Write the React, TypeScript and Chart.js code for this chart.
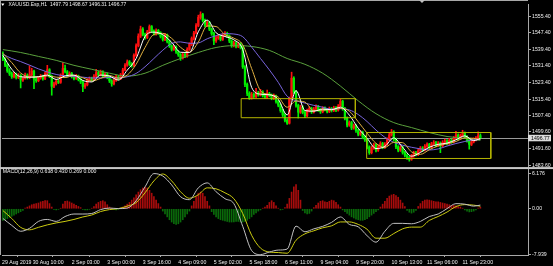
import React, { useEffect, useRef } from 'react';
import { Chart, registerables } from 'chart.js';

Chart.register(...registerables);

const symbolTitle = 'XAUUSD.Esp,H1';
const macdTitle = 'MACD(12,26,9)';
const macdLegendValues = ['0.638', '0.430', '0.269', '0.000'];

const opens = [
1537.0,1534.5,1531.8,1529.0,1527.6,1526.2,1527.4,1525.9,1526.8,1524.6,
1525.5,1526.9,1525.8,1527.2,1528.9,1525.1,1524.3,1525.7,1526.5,1525.2,
1527.8,1529.6,1526.4,1521.6,1522.8,1524.1,1523.5,1526.8,1530.2,1528.6,
1526.9,1527.8,1526.2,1525.4,1526.5,1524.9,1523.7,1521.5,1522.3,1524.6,
1525.3,1524.8,1526.4,1528.2,1527.1,1528.6,1526.5,1527.4,1525.9,1524.2,
1522.8,1524.5,1526.1,1525.3,1527.0,1529.5,1531.8,1533.4,1532.2,1531.6,
1536.5,1541.2,1545.8,1549.2,1546.6,1545.1,1547.8,1550.4,1548.2,1546.9,
1548.5,1547.3,1545.6,1544.1,1546.3,1543.2,1541.0,1539.4,1540.6,1538.1,
1536.8,1535.2,1537.0,1536.1,1539.4,1541.8,1544.6,1547.3,1550.9,1554.8,
1556.2,1553.4,1551.0,1552.3,1549.1,1547.0,1543.5,1544.9,1545.6,1544.2,
1546.3,1547.1,1545.8,1543.4,1541.2,1542.5,1540.8,1542.0,1540.4,1531.0,
1522.5,1518.2,1516.0,1517.8,1516.6,1518.5,1517.4,1518.9,1517.1,1516.3,
1518.0,1517.2,1515.8,1516.9,1514.2,1512.5,1509.9,1507.8,1505.2,1503.8,
1515.5,1525.5,1519.0,1512.4,1509.1,1511.6,1509.0,1507.4,1509.8,1510.9,
1509.2,1510.6,1511.9,1510.2,1509.3,1511.0,1510.4,1509.5,1510.8,1509.9,
1511.2,1510.1,1512.0,1514.3,1510.8,1506.2,1502.9,1504.1,1501.5,1502.6,
1500.2,1498.5,1499.4,1497.1,1495.8,1492.3,1489.6,1491.8,1493.4,1490.8,
1492.5,1494.0,1492.2,1493.7,1495.9,1498.2,1499.6,1496.0,1492.4,1490.8,
1492.1,1489.7,1488.4,1487.2,1486.4,1488.0,1489.5,1488.7,1490.6,1491.8,
1490.9,1492.7,1493.5,1492.2,1493.8,1494.5,1493.1,1494.2,1492.9,1494.6,
1495.3,1494.0,1495.6,1494.8,1496.5,1498.1,1496.4,1497.8,1499.0,1497.2,
1495.4,1493.6,1494.8,1495.9,1496.6,1497.79
];

const highs = [
1538.2,1535.3,1532.4,1530.1,1528.5,1528.3,1528.0,1527.7,1527.3,1526.2,
1528.0,1527.6,1531.5,1530.3,1529.4,1526.0,1526.4,1527.3,1527.0,1528.6,
1531.7,1530.1,1527.0,1523.6,1524.9,1524.8,1527.6,1533.0,1531.8,1529.2,
1528.6,1528.3,1526.9,1527.3,1527.0,1525.5,1524.3,1523.1,1525.3,1526.1,
1526.0,1527.2,1529.8,1528.9,1529.4,1529.1,1528.2,1528.0,1526.5,1524.8,
1525.3,1526.9,1526.8,1527.8,1530.3,1532.6,1534.3,1534.0,1533.0,1537.3,
1542.1,1546.9,1550.6,1549.9,1547.3,1548.6,1551.2,1550.9,1548.8,1549.3,
1549.0,1547.9,1546.2,1547.1,1546.8,1543.8,1541.6,1541.3,1541.1,1538.7,
1537.4,1537.8,1537.6,1540.2,1542.6,1545.4,1548.1,1551.8,1555.9,1557.5,
1556.8,1554.0,1553.1,1552.9,1549.7,1547.6,1545.7,1546.4,1546.2,1547.1,
1548.0,1547.7,1546.4,1544.0,1543.3,1543.1,1542.8,1542.6,1541.0,1531.6,
1523.2,1519.0,1518.7,1518.5,1520.6,1519.2,1520.1,1519.5,1517.8,1519.8,
1518.7,1517.9,1517.9,1517.4,1514.9,1513.1,1510.6,1508.4,1506.0,1516.4,
1528.4,1526.2,1519.6,1513.0,1512.4,1512.2,1509.7,1510.6,1511.8,1511.5,
1511.4,1512.7,1512.4,1510.9,1511.8,1511.7,1511.0,1511.6,1511.4,1512.0,
1511.8,1512.8,1515.3,1514.9,1511.4,1506.9,1504.9,1504.7,1503.4,1503.2,
1500.9,1500.2,1500.0,1497.8,1496.4,1492.9,1492.6,1494.2,1494.0,1493.3,
1494.9,1494.6,1494.5,1496.7,1499.0,1500.8,1500.2,1496.6,1493.0,1492.9,
1492.7,1490.3,1489.0,1487.9,1488.8,1490.3,1490.2,1491.4,1492.6,1492.5,
1493.5,1494.4,1494.1,1494.6,1495.4,1495.1,1495.0,1494.8,1495.4,1496.2,
1495.9,1496.5,1496.3,1497.4,1499.9,1498.7,1498.6,1500.4,1499.6,1497.8,
1496.0,1495.6,1496.7,1497.4,1499.6,1498.67
];

const lows = [
1533.9,1531.0,1528.3,1526.8,1525.4,1525.6,1525.1,1525.3,1520.8,1523.9,
1525.0,1525.1,1525.2,1526.6,1520.5,1523.5,1523.8,1525.0,1524.6,1524.8,
1527.2,1525.8,1517.3,1520.9,1522.2,1522.9,1523.0,1526.3,1528.0,1526.2,
1526.3,1525.6,1524.7,1524.9,1524.2,1522.9,1519.0,1520.6,1521.8,1524.0,
1524.1,1524.3,1525.9,1526.5,1526.6,1525.9,1525.9,1525.2,1523.4,1521.6,
1522.2,1523.9,1524.6,1524.8,1526.5,1529.0,1531.2,1531.6,1530.8,1531.0,
1536.0,1540.6,1545.1,1545.9,1544.3,1544.6,1547.2,1547.5,1546.2,1546.3,
1546.6,1544.9,1543.4,1543.6,1542.5,1540.3,1538.6,1538.9,1537.4,1536.0,
1534.1,1534.7,1535.4,1535.6,1538.9,1541.2,1544.0,1546.8,1550.3,1553.9,
1552.6,1550.2,1550.4,1548.4,1546.2,1541.7,1542.8,1544.2,1543.5,1543.7,
1545.7,1545.1,1542.6,1540.4,1540.6,1540.1,1540.2,1539.6,1530.2,1521.4,
1517.1,1515.2,1515.4,1515.9,1516.0,1516.8,1516.9,1516.4,1515.6,1515.8,
1516.5,1515.1,1515.2,1513.5,1511.7,1509.1,1507.0,1504.4,1503.2,1503.4,
1514.9,1518.2,1511.5,1506.3,1508.5,1508.3,1506.5,1506.9,1509.2,1508.5,
1508.7,1510.0,1509.5,1508.5,1508.8,1509.7,1508.8,1508.9,1509.2,1509.4,
1509.4,1509.6,1511.5,1510.0,1505.4,1502.0,1502.3,1500.7,1500.9,1499.4,
1497.7,1497.9,1496.3,1495.0,1491.4,1488.8,1489.0,1491.2,1490.0,1490.2,
1491.9,1491.5,1491.6,1493.1,1495.3,1497.6,1495.2,1491.5,1490.0,1490.2,
1488.9,1487.6,1486.4,1485.5,1485.9,1487.4,1488.0,1488.2,1490.0,1490.2,
1490.4,1492.1,1491.5,1491.7,1493.2,1492.4,1492.6,1489.6,1492.3,1494.0,
1493.3,1493.5,1494.1,1494.3,1496.0,1495.7,1495.9,1497.2,1496.5,1494.7,
1491.3,1493.0,1494.3,1495.3,1496.1,1496.31
];

const closes = [
1534.5,1531.8,1529.0,1527.6,1526.2,1527.4,1525.9,1526.8,1524.6,1525.5,
1526.9,1525.8,1527.2,1528.9,1525.1,1524.3,1525.7,1526.5,1525.2,1527.8,
1529.6,1526.4,1521.6,1522.8,1524.1,1523.5,1526.8,1530.2,1528.6,1526.9,
1527.8,1526.2,1525.4,1526.5,1524.9,1523.7,1521.5,1522.3,1524.6,1525.3,
1524.8,1526.4,1528.2,1527.1,1528.6,1526.5,1527.4,1525.9,1524.2,1522.8,
1524.5,1526.1,1525.3,1527.0,1529.5,1531.8,1533.4,1532.2,1531.6,1536.5,
1541.2,1545.8,1549.2,1546.6,1545.1,1547.8,1550.4,1548.2,1546.9,1548.5,
1547.3,1545.6,1544.1,1546.3,1543.2,1541.0,1539.4,1540.6,1538.1,1536.8,
1535.2,1537.0,1536.1,1539.4,1541.8,1544.6,1547.3,1550.9,1554.8,1556.2,
1553.4,1551.0,1552.3,1549.1,1547.0,1543.5,1544.9,1545.6,1544.2,1546.3,
1547.1,1545.8,1543.4,1541.2,1542.5,1540.8,1542.0,1540.4,1531.0,1522.5,
1518.2,1516.0,1517.8,1516.6,1518.5,1517.4,1518.9,1517.1,1516.3,1518.0,
1517.2,1515.8,1516.9,1514.2,1512.5,1509.9,1507.8,1505.2,1503.8,1515.5,
1525.5,1519.0,1512.4,1509.1,1511.6,1509.0,1507.4,1509.8,1510.9,1509.2,
1510.6,1511.9,1510.2,1509.3,1511.0,1510.4,1509.5,1510.8,1509.9,1511.2,
1510.1,1512.0,1514.3,1510.8,1506.2,1502.9,1504.1,1501.5,1502.6,1500.2,
1498.5,1499.4,1497.1,1495.8,1492.3,1489.6,1491.8,1493.4,1490.8,1492.5,
1494.0,1492.2,1493.7,1495.9,1498.2,1499.6,1496.0,1492.4,1490.8,1492.1,
1489.7,1488.4,1487.2,1486.4,1488.0,1489.5,1488.7,1490.6,1491.8,1490.9,
1492.7,1493.5,1492.2,1493.8,1494.5,1493.1,1494.2,1492.9,1494.6,1495.3,
1494.0,1495.6,1494.8,1496.5,1498.1,1496.4,1497.8,1499.0,1497.2,1495.4,
1493.6,1494.8,1495.9,1496.6,1497.79,1496.77
];

// sample bar positions for the moving averages and MACD lines
const maIdx = [0,4,8,12,16,20,24,28,32,36,40,44,48,52,56,60,64,68,72,76,80,84,88,92,96,100,104,108,112,116,120,124,128,132,136,140,144,148,152,156,160,164,168,172,176,180,184,188,192,196,200,204,208,212,215];
const maWhite = [1536.5,1529.8,1526.2,1526.0,1526.2,1527.0,1524.9,1526.6,1527.0,1524.4,1523.7,1527.0,1526.5,1524.6,1529.4,1535.0,1545.6,1547.7,1546.5,1542.8,1538.0,1537.9,1547.9,1553.5,1547.4,1545.6,1544.0,1539.3,1521.1,1517.8,1517.5,1515.3,1507.8,1519.5,1509.9,1509.6,1510.6,1510.3,1511.5,1507.7,1501.4,1496.6,1491.6,1492.6,1496.7,1492.2,1487.9,1489.7,1492.2,1493.6,1494.2,1495.8,1497.7,1495.4,1496.4];
const maYellow = [1537.5,1533.0,1528.0,1526.1,1526.1,1526.6,1526.0,1525.8,1526.8,1525.7,1524.1,1525.4,1526.8,1525.5,1527.0,1532.2,1540.3,1546.6,1547.1,1544.7,1540.4,1538.0,1542.9,1550.7,1550.4,1546.5,1544.8,1541.6,1530.2,1519.5,1517.6,1516.4,1511.5,1514.5,1514.0,1509.8,1510.1,1510.4,1510.9,1509.6,1504.5,1499.0,1494.1,1492.1,1494.6,1494.4,1490.0,1488.8,1491.0,1492.9,1493.9,1495.0,1496.7,1496.5,1496.0];
const maPurple = [1537.0,1535.0,1533.5,1531.8,1530.0,1528.5,1527.3,1526.6,1526.3,1526.0,1525.6,1525.7,1525.8,1525.6,1526.2,1527.8,1531.0,1535.0,1539.0,1542.2,1543.0,1542.3,1542.5,1544.5,1546.0,1547.0,1546.8,1545.5,1540.5,1535.0,1529.5,1523.5,1516.8,1514.6,1513.5,1512.4,1511.5,1510.6,1510.8,1510.2,1508.0,1504.6,1500.5,1497.0,1494.6,1493.2,1492.2,1491.4,1490.9,1491.4,1492.8,1494.0,1495.0,1495.8,1495.9];
const maGreenIdx = [0,8,16,24,32,40,48,56,64,72,80,88,96,104,112,120,128,136,144,152,160,168,176,184,192,200,208,215];
const maGreen = [1539.3,1537.9,1536.0,1534.1,1531.7,1529.8,1527.9,1526.5,1527.9,1531.7,1535.0,1537.9,1540.3,1541.2,1540.8,1538.9,1535.0,1532.2,1527.9,1521.7,1514.6,1508.4,1504.1,1501.7,1499.3,1497.4,1496.5,1495.5];

const macdMain = [-1.68,-2.88,-3.9,-3.39,-2.19,-1.85,-2.19,-1.34,-0.91,-0.91,-0.82,-0.14,0.12,0.03,0.12,1.4,3.8,6.1,5.68,4.14,2.09,1.58,3.63,4.49,2.95,1.75,0.89,-3.05,-7.24,-7.94,-7.5,-7.16,-6.99,-3.0,-3.99,-3.48,-3.05,-2.36,-1.42,-2.71,-3.13,-4.67,-5.79,-3.9,-2.53,-2.53,-2.6,-2.19,-1.34,-0.91,0.03,0.89,0.8,0.46,0.64];
const macdSignal = [-0.31,-1.68,-3.22,-3.65,-3.22,-2.79,-2.45,-2.19,-1.85,-1.42,-1.08,-0.48,-0.14,0.03,0.46,1.06,2.77,4.83,6.03,4.83,2.95,1.83,2.43,3.63,3.46,2.77,1.75,-0.82,-4.59,-6.82,-7.5,-7.59,-7.71,-5.45,-4.35,-3.82,-3.3,-2.96,-2.28,-2.28,-2.71,-3.56,-5.1,-5.1,-4.3,-3.48,-3.18,-3.18,-2.02,-1.34,-0.57,0.38,0.72,0.63,0.43];
const macdHist = [
-2.0,-1.9,-1.7,-1.5,-1.3,-1.1,-0.9,-0.7,-0.5,-0.3,
0.1,0.3,0.5,0.7,0.8,0.9,1.0,1.2,1.3,1.4,1.4,0.9,0.3,
-0.1,-0.2,-0.1,0.1,
0.8,1.3,1.35,1.2,1.0,0.8,0.6,0.4,0.2,
-0.1,-0.2,-0.2,-0.1,0.1,
0.4,0.8,1.1,1.3,1.4,1.2,0.7,0.3,
0.1,-0.1,-0.2,-0.1,0.1,0.3,
0.5,0.8,1.1,1.5,1.9,2.4,2.9,3.3,3.6,3.75,3.6,3.2,2.7,2.1,1.5,0.9,0.3,
-0.4,-0.9,-1.4,-1.9,-2.3,-2.6,-2.7,-2.6,-2.3,-1.9,-1.4,-0.9,-0.4,
0.5,1.3,2.1,2.7,2.9,2.7,2.1,1.3,0.5,
-0.5,-1.0,-1.4,-1.7,-1.9,-2.0,-2.1,-2.2,-2.3,-2.3,-2.3,-2.2,-2.2,-2.3,-2.3,-2.2,-2.0,-1.7,-1.4,-1.0,-0.7,-0.4,-0.2,
0.1,0.3,
0.6,1.1,1.4,1.1,0.5,
0.1,-0.2,-0.1,0.2,
0.8,1.8,2.9,3.8,4.2,3.2,1.5,
-0.3,-0.7,-0.9,-0.8,-0.4,
0.2,0.6,1.0,1.3,1.4,1.2,1.1,1.3,1.5,1.4,1.1,0.7,0.3,
-0.2,-0.5,-0.8,-1.1,-1.4,-1.6,-1.8,-1.9,-2.0,-2.0,-1.9,-1.7,-1.4,-1.1,-0.8,-0.5,-0.2,
0.3,0.8,1.3,1.8,2.2,2.4,2.5,2.3,2.0,1.5,1.0,0.4,
-0.3,-0.6,-0.75,-0.6,-0.3,
0.4,0.9,1.3,1.5,1.55,1.5,1.4,1.3,1.2,1.2,1.1,1.0,0.9,0.8,0.7,
0.6,0.6,0.5,0.4,0.3,0.1,
-0.2,-0.4,-0.55,-0.5,-0.4,-0.2,
0.1,0.27
];

const priceTicks = [1555.4, 1547.4, 1539.4, 1531.4, 1523.4, 1515.4, 1507.4, 1499.6, 1491.6, 1483.6];
const macdTicks = [6.176, 0, -7.939];
const timeTickPos = [-0.4, 13.4, 31, 47, 63, 79, 95, 111, 127, 143, 159, 175, 191, 207];
const timeLabels = ['29 Aug 2019', '30 Aug 10:00', '2 Sep 03:00', '3 Sep 00:00', '3 Sep 16:00', '4 Sep 09:00', '5 Sep 02:00', '5 Sep 18:00', '6 Sep 11:00', '9 Sep 04:00', '9 Sep 20:00', '10 Sep 13:00', '11 Sep 06:00', '11 Sep 23:00'];

const boxStart = [107.3, 163.8];
const boxEnd = [158.7, 219.7];
const boxTop = [1515.64, 1499.31];
const boxBottom = [1506.45, 1486.8];

const FONT = '"Liberation Sans", Arial, sans-serif';
const UP = '#ff1010';
const DOWN = '#00f000';
const FRAME = '#a8a8a8';
const TEXT = '#f0f0f0';

const isUp = (i: number) => closes[i] >= opens[i];

export default function App() {
  const ref = useRef<HTMLCanvasElement>(null);

  useEffect(() => {
    const canvas = ref.current;
    if (!canvas) return;

    const lastClose = closes[closes.length - 1];
    const n = closes.length - 1;

    const decor = {
      id: 'mt4decor',
      beforeDraw(chart: any) {
        const ctx = chart.ctx;
        ctx.save();
        ctx.fillStyle = '#000';
        ctx.fillRect(0, 0, chart.width, chart.height);
        ctx.restore();
      },
      beforeDatasetsDraw(chart: any) {
        const { ctx, chartArea, scales } = chart;
        const y = Math.round(scales.yPrice.getPixelForValue(lastClose)) + 0.5;
        ctx.save();
        ctx.strokeStyle = '#9a9a9a';
        ctx.lineWidth = 1;
        ctx.beginPath();
        ctx.moveTo(chartArea.left, y);
        ctx.lineTo(chartArea.right, y);
        ctx.stroke();
        ctx.restore();
      },
      afterDraw(chart: any) {
        const { ctx, chartArea, scales } = chart;
        ctx.save();
        ctx.strokeStyle = FRAME;
        ctx.lineWidth = 1;
        ctx.beginPath();
        ctx.moveTo(0, 0.5);
        ctx.lineTo(chartArea.right, 0.5);
        ctx.moveTo(0.5, 0);
        ctx.lineTo(0.5, chartArea.bottom);
        ctx.stroke();
        const sep = scales.yPrice.bottom;
        ctx.fillStyle = '#c8c8c8';
        ctx.fillRect(0, sep - 1, chart.width, 2);
        ctx.fillStyle = '#c0c0c0';
        ctx.beginPath();
        ctx.moveTo(419, 0);
        ctx.lineTo(425, 0);
        ctx.lineTo(422, 3);
        ctx.closePath();
        ctx.fill();
        const py = scales.yPrice.getPixelForValue(lastClose);
        ctx.fillStyle = '#dcdcdc';
        ctx.fillRect(chartArea.right, py - 3, 23, 6.5);
        ctx.fillStyle = '#000';
        ctx.font = `5.2px ${FONT}`;
        ctx.textBaseline = 'middle';
        ctx.textAlign = 'left';
        ctx.fillText(lastClose.toFixed(2), chartArea.right + 3, py + 0.3);
        ctx.fillStyle = '#ffffff';
        ctx.beginPath();
        ctx.moveTo(1.2, 3.4);
        ctx.lineTo(4.4, 3.4);
        ctx.lineTo(2.8, 6);
        ctx.closePath();
        ctx.fill();
        ctx.fillStyle = TEXT;
        ctx.font = `5px ${FONT}`;
        const head = `${symbolTitle}  ${opens[n].toFixed(2)} ${highs[n].toFixed(2)} ${lows[n].toFixed(2)} ${closes[n].toFixed(2)}`;
        ctx.fillText(head, 8.5, 4.8);
        const macdText = `${macdTitle} ${macdLegendValues.join(' ')}`;
        ctx.font = `5.2px ${FONT}`;
        ctx.fillText(macdText, 2.7, 172);
        ctx.restore();
      },
    };

    const line = (idx: number[], vals: number[], color: string, axis: string) => ({
      type: 'line',
      data: idx.map((x, k) => ({ x, y: vals[k] })),
      borderColor: color,
      borderWidth: 1,
      pointRadius: 0,
      cubicInterpolationMode: 'monotone',
      yAxisID: axis,
      order: 1,
    });

    const boxes = boxStart.map((s, k) => ({
      type: 'line',
      data: [
        { x: s, y: boxTop[k] },
        { x: boxEnd[k], y: boxTop[k] },
        { x: boxEnd[k], y: boxBottom[k] },
        { x: s, y: boxBottom[k] },
        { x: s, y: boxTop[k] },
      ],
      borderColor: '#b4b400',
      borderWidth: 1,
      pointRadius: 0,
      tension: 0,
      yAxisID: 'yPrice',
      order: 1,
    }));

    const tickFont = { family: FONT, size: 5.2 };

    const chart = new Chart(canvas, {
      type: 'bar',
      data: {
        datasets: [
          ...boxes,
          line(maIdx, maWhite, '#ffffff', 'yPrice'),
          line(maIdx, maYellow, '#e0b040', 'yPrice'),
          line(maIdx, maPurple, '#7864dc', 'yPrice'),
          line(maGreenIdx, maGreen, '#5aa03c', 'yPrice'),
          line(maIdx, macdMain, '#c0c0c0', 'yMacd'),
          line(maIdx, macdSignal, '#cccc10', 'yMacd'),
          {
            type: 'bar',
            data: closes.map((c, i) => ({ x: i, y: [opens[i], c] })),
            backgroundColor: closes.map((_, i) => (isUp(i) ? UP : DOWN)),
            barThickness: 1.6,
            minBarLength: 0.7,
            grouped: false,
            borderWidth: 0,
            yAxisID: 'yPrice',
            order: 2,
          },
          {
            type: 'bar',
            data: highs.map((h, i) => ({ x: i, y: [lows[i], h] })),
            backgroundColor: highs.map((_, i) => (isUp(i) ? UP : DOWN)),
            barThickness: 1,
            grouped: false,
            borderWidth: 0,
            yAxisID: 'yPrice',
            order: 3,
          },
          {
            type: 'bar',
            data: macdHist.map((v, i) => ({ x: i, y: v })),
            backgroundColor: macdHist.map((v) => (v >= 0 ? '#a80c0c' : '#0a6a0a')),
            barThickness: 1,
            grouped: false,
            borderWidth: 0,
            yAxisID: 'yMacd',
            order: 3,
          },
        ] as any,
      },
      options: {
        responsive: false,
        animation: false,
        devicePixelRatio: 1,
        events: [],
        layout: { padding: { left: 1, top: 1, right: 0, bottom: 0 } },
        plugins: { legend: { display: false }, tooltip: { enabled: false } },
        scales: {
          x: {
            type: 'linear',
            min: -0.4,
            max: 236.45,
            offset: false,
            grid: { drawOnChartArea: false, drawTicks: true, tickLength: 2, color: FRAME },
            border: { color: FRAME },
            ticks: {
              autoSkip: false,
              maxRotation: 0,
              minRotation: 0,
              align: 'start',
              padding: 2,
              color: TEXT,
              font: tickFont,
              callback: (_v: any, i: number) => timeLabels[i] ?? '',
            },
            afterBuildTicks: (s: any) => {
              s.ticks = timeTickPos.map((value) => ({ value }));
            },
            afterFit: (s: any) => {
              s.height = 11;
            },
          },
          yPrice: {
            type: 'linear',
            position: 'right',
            stack: 'panels',
            stackWeight: 166,
            min: 1482.17,
            max: 1561.21,
            beginAtZero: false,
            grid: { drawOnChartArea: false, drawTicks: true, tickLength: 3, color: FRAME },
            border: { color: FRAME },
            ticks: {
              padding: 1,
              color: TEXT,
              font: tickFont,
              callback: (v: any) => Number(v).toFixed(2),
            },
            afterBuildTicks: (s: any) => {
              s.ticks = priceTicks.map((value) => ({ value }));
            },
            afterFit: (s: any) => {
              s.width = 25;
            },
          },
          yMacd: {
            type: 'linear',
            position: 'right',
            stack: 'panels',
            stackWeight: 88,
            min: -8.014,
            max: 7.055,
            beginAtZero: false,
            grid: { drawOnChartArea: false, drawTicks: true, tickLength: 3, color: FRAME },
            border: { color: FRAME },
            ticks: {
              padding: 1,
              color: TEXT,
              font: tickFont,
              callback: (v: any) => (Number(v) === 0 ? '0.00' : Number(v).toFixed(3)),
            },
            afterBuildTicks: (s: any) => {
              s.ticks = macdTicks.map((value) => ({ value }));
            },
            afterFit: (s: any) => {
              s.width = 25;
            },
          },
        },
      } as any,
      plugins: [decor],
    });

    return () => chart.destroy();
  }, []);

  return (
    <div style={{ position: 'fixed', left: 0, top: 0, width: 553, height: 266, background: '#000' }}>
      <canvas ref={ref} width={553} height={266} style={{ display: 'block', width: 553, height: 266 }} />
    </div>
  );
}
